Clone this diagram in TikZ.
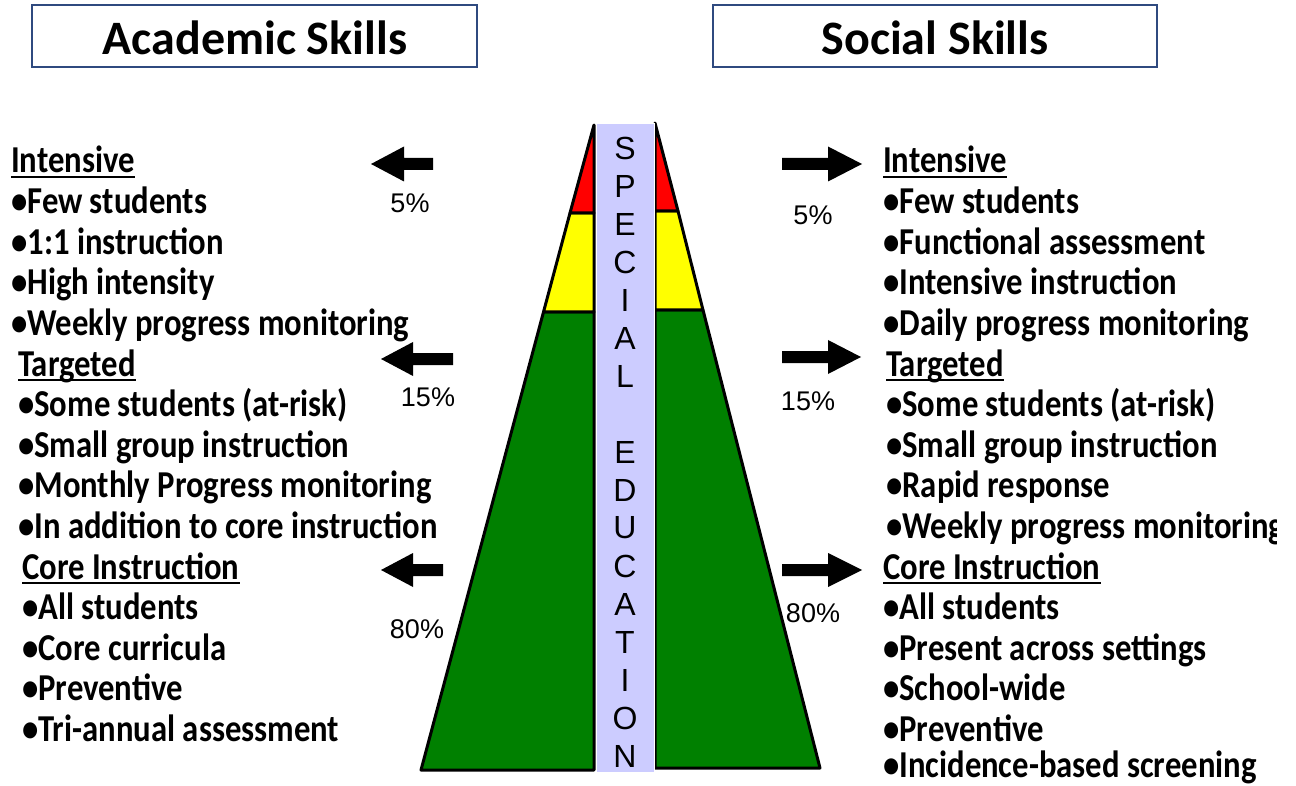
\documentclass[tikz,border=0pt]{standalone}
\usepackage{fontspec}
\setmainfont{Carlito}
\newfontfamily\bodyf[FakeStretch=0.86]{Carlito}
\newfontfamily\arialf{Liberation Sans}
\definecolor{boxblue}{HTML}{2F4A7F}
\definecolor{band}{HTML}{CCCCFF}
\definecolor{pgreen}{HTML}{008000}
\definecolor{pred}{HTML}{FF0000}
\definecolor{pyellow}{HTML}{FFFF00}
\begin{document}
\begin{tikzpicture}[x=1pt,y=-1pt,
  titlebox/.style={draw=boxblue,line width=1.5pt,fill=white},
  titletext/.style={inner sep=0,font=\bfseries\fontsize{48}{48}\selectfont},
  bodytext/.style={anchor=base west,inner sep=0,font=\bodyf\bfseries\fontsize{38}{38}\selectfont},
  pct/.style={inner sep=0,font=\arialf\fontsize{27}{27}\selectfont},
  letter/.style={inner sep=0,font=\arialf\fontsize{32}{32}\selectfont},
  tier/.style={draw=black,line width=3pt,line join=round},
  ul/.style={line width=2.2pt},
  blockarrow/.style={fill=black}]
\useasboundingbox (0,0) rectangle (1296,786);
% title boxes
\draw[titlebox] (32,5) rectangle (477,67);
\draw[titlebox] (713,5) rectangle (1157,67);
\node[titletext] (tA) at (255,38) {Academic Skills};
\node[titletext] (tS) at (935,38) {Social Skills};
% pyramid left half
\filldraw[tier,fill=pgreen] (543.5,312) -- (421,770) -- (594,770) -- (594,312) -- cycle;
\filldraw[tier,fill=pyellow] (570,213) -- (543.5,312) -- (594,312) -- (594,213) -- cycle;
\filldraw[tier,fill=pred] (594,125) -- (570,213) -- (594,213) -- cycle;
% pyramid right half
\filldraw[tier,fill=pgreen] (703,310) -- (820,768) -- (655,768) -- (655,310) -- cycle;
\filldraw[tier,fill=pyellow] (678,211) -- (703,310) -- (655,310) -- (655,211) -- cycle;
\filldraw[tier,fill=pred] (655,123) -- (678,211) -- (655,211) -- cycle;
% special education band
\filldraw[fill=band,draw=white,line width=0.8pt] (596,123) rectangle (654,772);
\foreach \ch/\k in {S/0,P/1,E/2,C/3,I/4,A/5,L/6,E/8,D/9,U/10,C/11,A/12,T/13,I/14,O/15,N/16}
  \node[letter] (sp\k) at (625,{148+38*\k}) {\ch};
% arrows left
\fill[blockarrow] (371,164) -- (404,146.5) -- (404,158) -- (433,158) -- (433,170) -- (404,170) -- (404,181.5) -- cycle;
\fill[blockarrow] (381,359) -- (413,342) -- (413,353) -- (453,353) -- (453,365) -- (413,365) -- (413,376) -- cycle;
\fill[blockarrow] (381,570) -- (413,553) -- (413,564) -- (443,564) -- (443,576) -- (413,576) -- (413,587) -- cycle;
% arrows right
\fill[blockarrow] (862,164) -- (828,146.5) -- (828,158) -- (782,158) -- (782,170) -- (828,170) -- (828,181.5) -- cycle;
\fill[blockarrow] (861,357) -- (828,340) -- (828,351) -- (782,351) -- (782,363) -- (828,363) -- (828,374) -- cycle;
\fill[blockarrow] (862,570) -- (828,553) -- (828,564) -- (782,564) -- (782,576) -- (828,576) -- (828,587) -- cycle;
% percentages
\node[pct] (p1) at (410,203) {5\%};
\node[pct] (p2) at (428,397) {15\%};
\node[pct] (p3) at (417,629) {80\%};
\node[pct] (p4) at (813,215) {5\%};
\node[pct] (p5) at (808,401) {15\%};
\node[pct] (p6) at (813,613) {80\%};
% left column
\node[bodytext] (L1) at (11,173) {Intensive};
\node[bodytext] (L2) at (11,213.6) {•Few students};
\node[bodytext] (L3) at (11,254.2) {•1:1 instruction};
\node[bodytext] (L4) at (11,294.8) {•High intensity};
\node[bodytext] (L5) at (11,335.4) {•Weekly progress monitoring};
\node[bodytext] (L6) at (18,376) {Targeted};
\node[bodytext] (L7) at (18,416.6) {•Some students (at-risk)};
\node[bodytext] (L8) at (18,457.2) {•Small group instruction};
\node[bodytext] (L9) at (18,497.8) {•Monthly Progress monitoring};
\node[bodytext] (L10) at (18,538.4) {•In addition to core instruction};
\node[bodytext] (L11) at (22,579) {Core Instruction};
\node[bodytext] (L12) at (22,619.6) {•All students};
\node[bodytext] (L13) at (22,660.2) {•Core curricula};
\node[bodytext] (L14) at (22,700.8) {•Preventive};
\node[bodytext] (L15) at (22,741.4) {•Tri-annual assessment};
\foreach \n in {L1,L6,L11}
  \draw[ul] ([yshift=-4pt]\n.base west) -- ([yshift=-4pt]\n.base east);
% right column
\begin{scope}
\clip (0,0) rectangle (1276,786);
\node[bodytext] (R1) at (883,173) {Intensive};
\node[bodytext] (R2) at (883,213.6) {•Few students};
\node[bodytext] (R3) at (883,254.2) {•Functional assessment};
\node[bodytext] (R4) at (883,294.8) {•Intensive instruction};
\node[bodytext] (R5) at (883,335.4) {•Daily progress monitoring};
\node[bodytext] (R6) at (886,376) {Targeted};
\node[bodytext] (R7) at (886,416.6) {•Some students (at-risk)};
\node[bodytext] (R8) at (886,457.2) {•Small group instruction};
\node[bodytext] (R9) at (886,497.8) {•Rapid response};
\node[bodytext] (R10) at (886,538.4) {•Weekly progress monitoring};
\node[bodytext] (R11) at (883,579) {Core Instruction};
\node[bodytext] (R12) at (883,619.6) {•All students};
\node[bodytext] (R13) at (883,660.2) {•Present across settings};
\node[bodytext] (R14) at (883,700.8) {•School-wide};
\node[bodytext] (R15) at (883,741.4) {•Preventive};
\node[bodytext] (R16) at (883,777) {•Incidence-based screening};
\end{scope}
\foreach \n in {R1,R6,R11}
  \draw[ul] ([yshift=-4pt]\n.base west) -- ([yshift=-4pt]\n.base east);
\end{tikzpicture}
\end{document}
